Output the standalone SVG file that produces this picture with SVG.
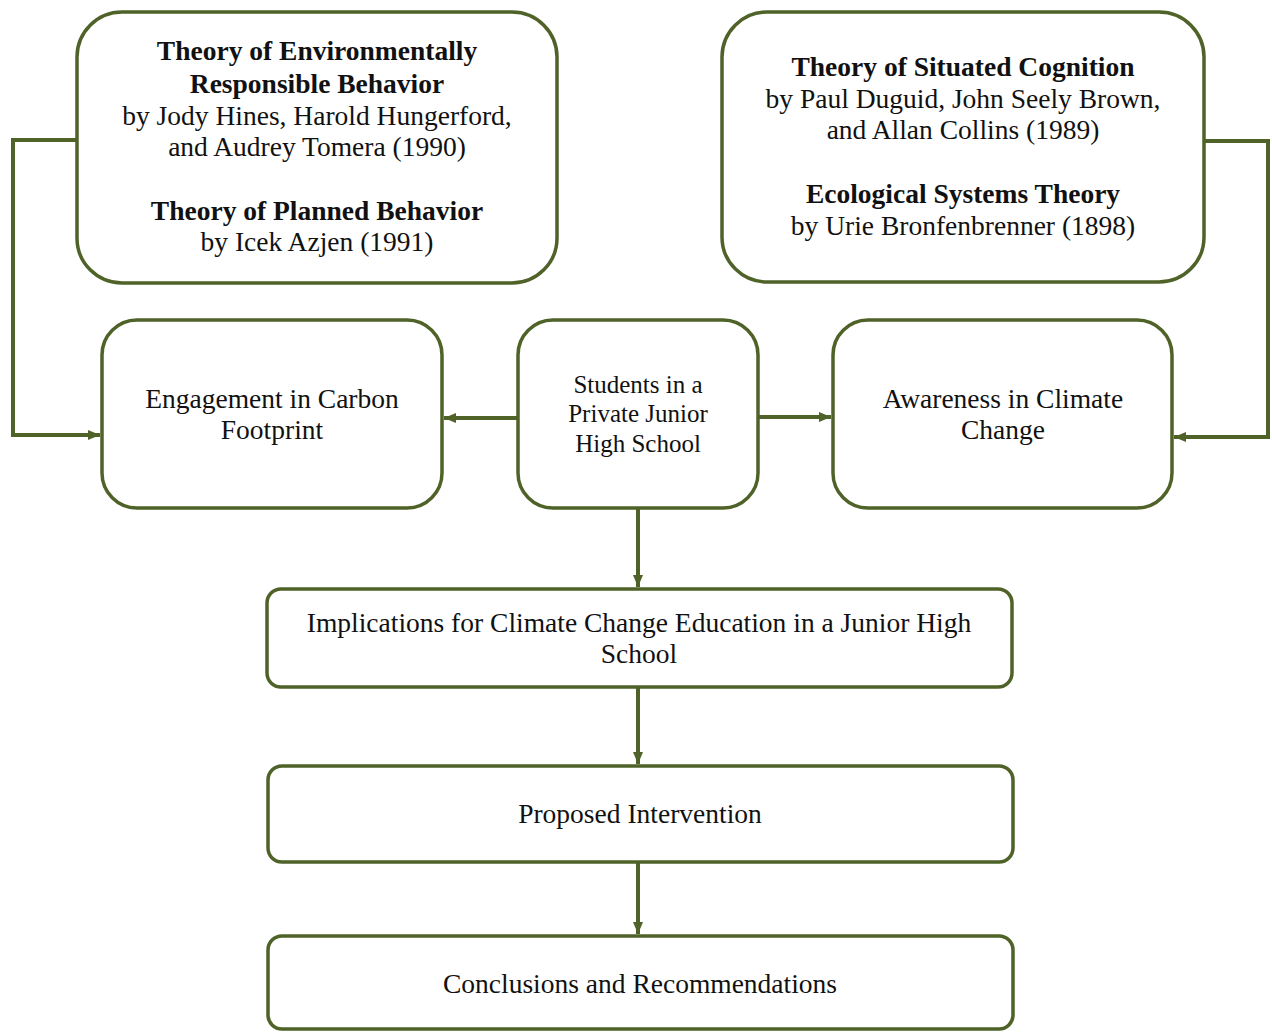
<svg xmlns="http://www.w3.org/2000/svg" width="1272" height="1032" viewBox="0 0 1272 1032">
<style>
.box{fill:#fff;stroke:#4F6228;stroke-width:3.5}
.con{fill:none;stroke:#4F6228;stroke-width:4}
text{font-family:"Liberation Serif","Times New Roman",serif;fill:#111;text-anchor:middle}
.t{font-size:27.5px}
.b{font-size:27.5px;font-weight:bold}
.s{font-size:25px}
</style>
<defs>
<marker id="ah" viewBox="0 0 12 10" refX="12" refY="5" markerWidth="12" markerHeight="10" markerUnits="userSpaceOnUse" orient="auto">
<path d="M0,0 L12,5 L0,10 z" fill="#4F6228"/>
</marker>
</defs>
<rect width="1272" height="1032" fill="#fff"/>
<g id="connectors">
<path class="con" d="M77,140 H13 V435 H100" marker-end="url(#ah)"/>
<path class="con" d="M1204,141 H1268 V437 H1174" marker-end="url(#ah)"/>
<path class="con" d="M518,418 H444" marker-end="url(#ah)"/>
<path class="con" d="M758,417 H831" marker-end="url(#ah)"/>
<path class="con" d="M638,508 V587" marker-end="url(#ah)"/>
<path class="con" d="M638,687 V764" marker-end="url(#ah)"/>
<path class="con" d="M638,862 V934" marker-end="url(#ah)"/>
</g>
<g id="theories-left">
<rect class="box" x="77" y="12" width="480" height="271" rx="45"/>
<text class="b" x="317" y="60">Theory of Environmentally</text>
<text class="b" x="317" y="93">Responsible Behavior</text>
<text class="t" x="317" y="125">by Jody Hines, Harold Hungerford,</text>
<text class="t" x="317" y="156">and Audrey Tomera (1990)</text>
<text class="b" x="317" y="220">Theory of Planned Behavior</text>
<text class="t" x="317" y="251">by Icek Azjen (1991)</text>
</g>
<g id="theories-right">
<rect class="box" x="722" y="12" width="482" height="270" rx="45"/>
<text class="b" x="963" y="76">Theory of Situated Cognition</text>
<text class="t" x="963" y="108">by Paul Duguid, John Seely Brown,</text>
<text class="t" x="963" y="139">and Allan Collins (1989)</text>
<text class="b" x="963" y="203">Ecological Systems Theory</text>
<text class="t" x="963" y="235">by Urie Bronfenbrenner (1898)</text>
</g>
<g id="engagement">
<rect class="box" x="102" y="320" width="340" height="188" rx="35"/>
<text class="t" x="272" y="408">Engagement in Carbon</text>
<text class="t" x="272" y="439">Footprint</text>
</g>
<g id="students">
<rect class="box" x="518" y="320" width="240" height="188" rx="35"/>
<text class="s" x="638" y="393">Students in a</text>
<text class="s" x="638" y="422">Private Junior</text>
<text class="s" x="638" y="452">High School</text>
</g>
<g id="awareness">
<rect class="box" x="833" y="320" width="339" height="188" rx="35"/>
<text class="t" x="1003" y="408">Awareness in Climate</text>
<text class="t" x="1003" y="439">Change</text>
</g>
<g id="implications">
<rect class="box" x="267" y="589" width="745" height="98" rx="14"/>
<text class="t" x="639" y="632">Implications for Climate Change Education in a Junior High</text>
<text class="t" x="639" y="663">School</text>
</g>
<g id="intervention">
<rect class="box" x="268" y="766" width="745" height="96" rx="14"/>
<text class="t" x="640" y="823">Proposed Intervention</text>
</g>
<g id="conclusions">
<rect class="box" x="268" y="936" width="745" height="93" rx="14"/>
<text class="t" x="640" y="993">Conclusions and Recommendations</text>
</g>
</svg>
